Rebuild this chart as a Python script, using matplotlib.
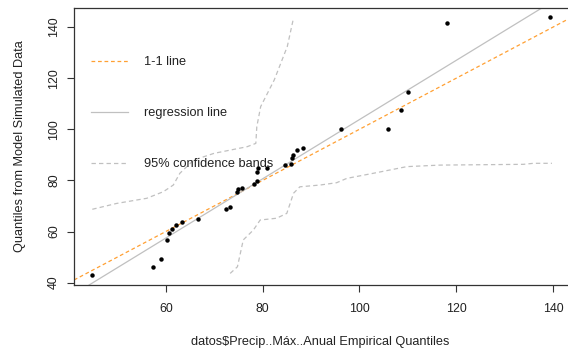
import numpy as np
import matplotlib
matplotlib.use("Agg")
import matplotlib.pyplot as plt
from matplotlib.lines import Line2D

# Empirical vs model quantiles
emp_q = [44.7, 57.4, 59.0, 60.3, 60.7, 61.2, 62.1, 63.3, 66.6, 72.4, 73.3,
         74.7, 74.9, 75.7, 78.2, 78.8, 78.8, 79.1, 80.9, 84.6, 85.9, 86.1,
         86.2, 87.1, 88.4, 96.2, 105.9, 108.6, 110.1, 118.1, 139.5]
model_q = [43.1, 46.0, 49.4, 56.8, 59.4, 60.9, 62.6, 63.7, 64.9, 68.7, 69.5,
           75.4, 76.6, 77.2, 78.5, 79.7, 83.4, 85.0, 85.0, 86.2, 86.6, 88.7,
           90.0, 91.9, 92.8, 100.1, 100.1, 107.5, 114.7, 141.5, 143.9]

# 95% confidence bands
upper_x = [44.8, 49.85, 56.05, 59.5, 61.55, 62.9, 65.8, 69.96, 76.8, 78.6,
           78.8, 79.6, 82.4, 85.1, 86.3]
upper_y = [68.7, 71.0, 73.0, 75.6, 78.2, 82.8, 88.0, 90.6, 93.2, 94.5,
           101.0, 108.9, 119.3, 132.4, 142.8]
lower_x = [73.3, 74.8, 76.0, 78.1, 79.5, 82.9, 85.0, 86.4, 87.7, 91.9, 95.3,
           97.4, 102.9, 109.8, 116.7, 133.9, 136.0, 139.8]
lower_y = [43.6, 46.2, 56.7, 60.6, 64.5, 65.2, 67.1, 75.0, 77.5, 78.2, 79.1,
           80.8, 82.8, 85.4, 86.0, 86.3, 86.7, 86.7]

# regression line
reg_slope = 1.159
reg_intercept = -12.1

plt.rcParams['font.family'] = ['Liberation Sans', 'DejaVu Sans']

W, H = 568, 356
fs = 9.2
fig = plt.figure(figsize=(W / 100, H / 100), dpi=100)
ax = fig.add_axes([74 / W, 1 - 285 / H, (580 - 74) / W, (285 - 8) / H])

orange = '#FFA033'
grey = '#C0C0C0'

ax.axline((0, 0), slope=1, color=orange, lw=0.9, ls=(0, (3, 2.2)), zorder=2)
ax.axline((0, reg_intercept), slope=reg_slope, color=grey, lw=0.9, zorder=2)
ax.plot(upper_x, upper_y, color=grey, lw=0.9, ls=(0, (3.5, 2.5)))
ax.plot(lower_x, lower_y, color=grey, lw=0.9, ls=(0, (3.5, 2.5)))
ax.plot(emp_q, model_q, 'o', color='black', ms=3.2, mec='none', zorder=3)

ax.set_xlim(41.02, 145.6)
ax.set_ylim(39.06, 147.5)
ax.set_xticks([60, 80, 100, 120, 140])
ax.set_yticks([40, 60, 80, 100, 120, 140])
ax.tick_params(labelsize=8.9, length=5, width=0.8, color='#333333',
               labelcolor='#222222')
ax.tick_params(axis='x', pad=8)
ax.tick_params(axis='y', pad=5)
for lab in ax.get_yticklabels():
    lab.set_rotation(90)
    lab.set_va('center')
ax.spines['right'].set_visible(False)
for s in ['top', 'left', 'bottom']:
    ax.spines[s].set_linewidth(0.9)
    ax.spines[s].set_color('#333333')

fig.text(320 / W, 1 - 342 / H, 'datos\\$Precip..Máx..Anual Empirical Quantiles',
         ha='center', va='center', fontsize=fs, color='#222222')
fig.text(20 / W, 1 - 146 / H, 'Quantiles from Model Simulated Data',
         ha='center', va='center', rotation=90, fontsize=fs, color='#222222')

handles = [Line2D([], [], color=orange, lw=0.9, ls=(0, (3, 2.2))),
           Line2D([], [], color=grey, lw=0.9),
           Line2D([], [], color=grey, lw=0.9, ls=(0, (3.5, 2.5)))]
labels = ['1-1 line', 'regression line', '95% confidence bands']
leg = ax.legend(handles, labels, loc='upper left', frameon=False,
                bbox_to_anchor=(12 / 506, 1 - 43 / 277), fontsize=fs,
                handlelength=2.9, handletextpad=1.2, labelspacing=3.05,
                borderaxespad=0)
for t in leg.get_texts():
    t.set_color('#222222')

fig.savefig('out.png', dpi=100)
